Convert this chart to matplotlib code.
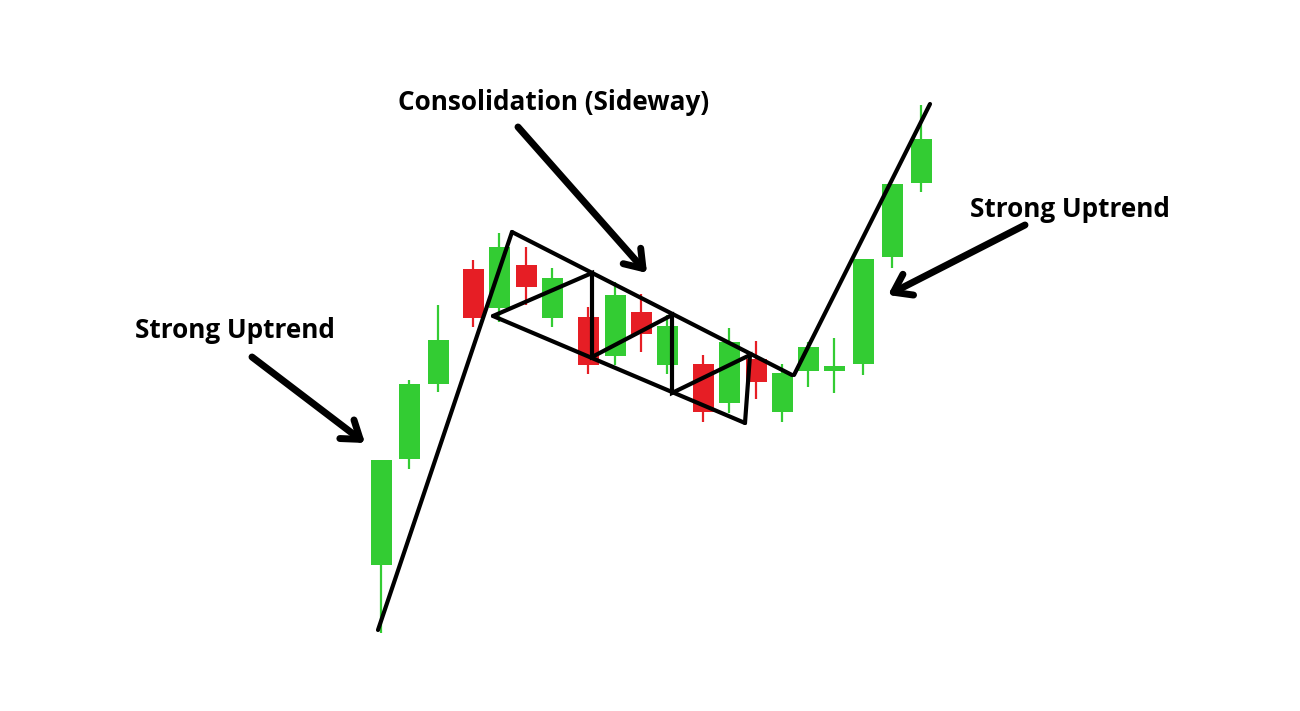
import numpy as np
import matplotlib
matplotlib.use("Agg")
from matplotlib import pyplot as plt

# candle data (time position, open, high, low, close)
t = [381, 409, 438, 473, 499, 526, 552, 588, 615, 641,
     667, 703, 729, 756, 782, 808, 834, 863, 892, 921]
opens = [146, 252, 327, 442, 403, 446, 393, 394, 355, 399,
         346, 347, 308, 352, 299, 340, 340, 347, 454, 528]
highs = [251, 331, 406, 451, 478, 464, 443, 404, 429, 417,
         396, 356, 383, 370, 347, 369, 373, 452, 527, 606]
lows = [78, 242, 319, 384, 389, 406, 384, 337, 346, 359,
        337, 289, 298, 312, 289, 324, 318, 336, 443, 519]
closes = [251, 327, 371, 393, 464, 424, 433, 346, 416, 377,
          385, 299, 369, 329, 338, 364, 345, 452, 527, 572]

# trend / flag drawing points
trend1_t = [378, 512]
trend1_p = [81, 479]
flag_top_t = [512, 792]
flag_top_p = [479, 336]
trend2_t = [794, 930]
trend2_p = [336, 607]
flag_bot_t = [493, 745]
flag_bot_p = [395, 288]
zig_t = [493, 592, 592, 672, 672, 750, 745]
zig_p = [395, 438, 354, 396, 318, 356, 288]

labels = ["Strong Uptrend", "Consolidation (Sideway)", "Strong Uptrend"]
label_t = [135, 398, 970]
label_p = [373, 601, 494]
arrow_from = [(252, 354), (518, 584), (1025, 486)]
arrow_to = [(365, 268), (647, 438), (888, 416)]

green = "#33CC33"
red = "#E61E25"

fig = plt.figure(figsize=(13, 7.11), dpi=100)
ax = fig.add_axes([0, 0, 1, 1])
ax.set_xlim(0, 1300)
ax.set_ylim(0, 711)
ax.axis("off")

opens = np.array(opens)
closes = np.array(closes)
colors = [green if c >= o else red for o, c in zip(opens, closes)]

ax.vlines(t, lows, highs, colors=colors, lw=1.6, zorder=1)
ax.bar(t, closes - opens, bottom=opens, width=21, color=colors, zorder=2)

lw = 3.0
for xs, ys in [(trend1_t, trend1_p), (flag_top_t, flag_top_p),
               (trend2_t, trend2_p), (flag_bot_t, flag_bot_p), (zig_t, zig_p)]:
    ax.plot(xs, ys, color="black", lw=lw, solid_capstyle="round",
            solid_joinstyle="miter", zorder=3)

for txt, x, y in zip(labels, label_t, label_p):
    ax.text(x, y, txt, fontsize=18.8, fontweight="bold", family="Open Sans",
            ha="left", va="baseline", color="black")

for a, b in zip(arrow_from, arrow_to):
    ax.annotate("", xy=b, xytext=a,
                arrowprops=dict(arrowstyle="->,head_length=1.0,head_width=0.7",
                                lw=5, color="black", shrinkA=0, shrinkB=0,
                                mutation_scale=12, capstyle="round",
                                joinstyle="round"))

fig.savefig("out.png", dpi=100, facecolor="white")
